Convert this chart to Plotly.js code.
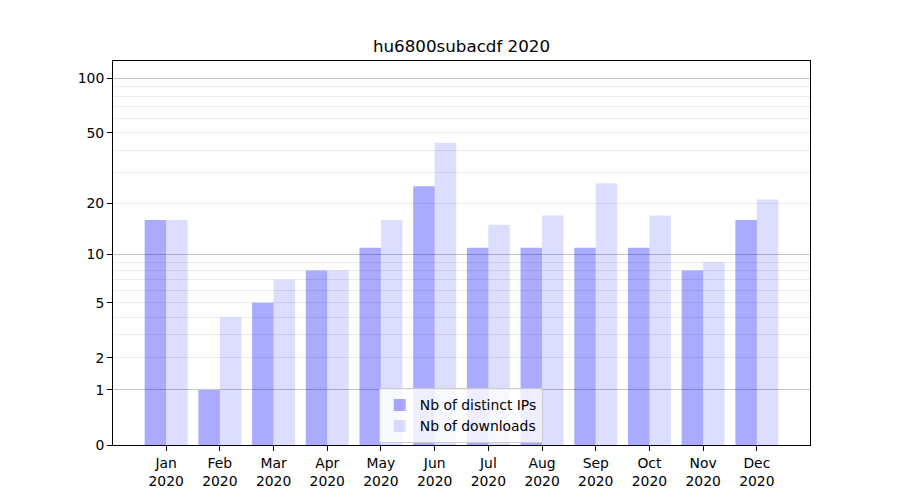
<!DOCTYPE html>
<html>
<head>
<meta charset="utf-8">
<script src="https://cdn.plot.ly/plotly-3.0.1.min.js"></script>
<style>html,body{margin:0;padding:0;background:#fff;}#chart{width:900px;height:500px;}</style>
</head>
<body>
<div id="chart"></div>
<script>
var months = ["Jan", "Feb", "Mar", "Apr", "May", "Jun", "Jul", "Aug", "Sep", "Oct", "Nov", "Dec"];
var year = "2020";
var distinctIPs = [16, 1, 5, 8, 11, 25, 11, 11, 11, 11, 8, 16];
var downloads = [16, 4, 7, 8, 16, 44, 15, 17, 26, 17, 9, 21];
var yTickValues = [0, 1, 2, 5, 10, 20, 50, 100];
var yMajorGrid = [1, 10, 100];
var yMinorGrid = [2, 3, 4, 5, 6, 7, 8, 9, 20, 30, 40, 50, 60, 70, 80, 90];

// scale: y -> log10(1 + y)
function tr(v) { return Math.log10(1 + v); }

var idx = months.map(function (m, i) { return i; });
var tickText = months.map(function (m) { return m + "<br>" + year; });
var font = "DejaVu Sans, sans-serif";

var traces = [
  {
    type: "bar", name: "Nb of distinct IPs",
    x: idx, y: distinctIPs.map(tr), offset: -0.4, width: 0.4,
    marker: { color: "rgba(0,0,255,0.333)", line: { width: 0 } },
    hoverinfo: "skip"
  },
  {
    type: "bar", name: "Nb of downloads",
    x: idx, y: downloads.map(tr), offset: 0, width: 0.4,
    marker: { color: "rgba(0,0,255,0.135)", line: { width: 0 } },
    hoverinfo: "skip"
  },
  {
    type: "scatter", x: [], y: [], yaxis: "y2", showlegend: false, hoverinfo: "skip"
  }
];

var yRange = [0, 2.1];

var layout = {
  width: 900, height: 500,
  margin: { l: 113, r: 90, t: 61, b: 55 },
  paper_bgcolor: "#fff", plot_bgcolor: "rgba(0,0,0,0)",
  font: { family: font, size: 13.9, color: "#000" },
  title: { text: "hu6800subacdf 2020", font: { family: font, size: 16.7, color: "#000" },
           x: 0.5, xref: "paper", xanchor: "center", y: 0.908, yanchor: "middle" },
  showlegend: true,
  barmode: "overlay",
  xaxis: {
    range: [-0.99, 11.99], tickmode: "array", tickvals: idx, ticktext: tickText,
    ticks: "outside", ticklen: 5, tickwidth: 1, tickcolor: "#000",
    showgrid: false, zeroline: false, showline: true, linecolor: "#000", linewidth: 1, mirror: true,
    tickfont: { family: font, size: 13.9, color: "#000" }
  },
  yaxis: {
    range: yRange, tickmode: "array", tickvals: yTickValues.map(tr), ticktext: yTickValues.map(String),
    ticks: "outside", ticklen: 5, tickwidth: 1, tickcolor: "#000",
    showgrid: false, zeroline: false, showline: true, linecolor: "#000", linewidth: 1, mirror: true,
    tickfont: { family: font, size: 13.9, color: "#000" },
    minor: { tickmode: "array", tickvals: yMinorGrid.map(tr), showgrid: true, gridcolor: "#ebebeb", gridwidth: 1, ticks: "" }
  },
  yaxis2: {
    overlaying: "y", side: "left", range: yRange, tickmode: "array", tickvals: yMajorGrid.map(tr),
    showticklabels: false, ticks: "", showgrid: true, gridcolor: "#c4c4c4", gridwidth: 1,
    zeroline: false, showline: false
  },
  legend: {
    x: 0.499, xanchor: "center", y: 0.004, yanchor: "bottom",
    bgcolor: "rgba(255,255,255,0.8)", bordercolor: "#cccccc", borderwidth: 1,
    font: { family: font, size: 13.9, color: "#000" }, tracegroupgap: 0
  }
};

Plotly.newPlot("chart", traces, layout, { staticPlot: true, displayModeBar: false });
</script>
</body>
</html>
